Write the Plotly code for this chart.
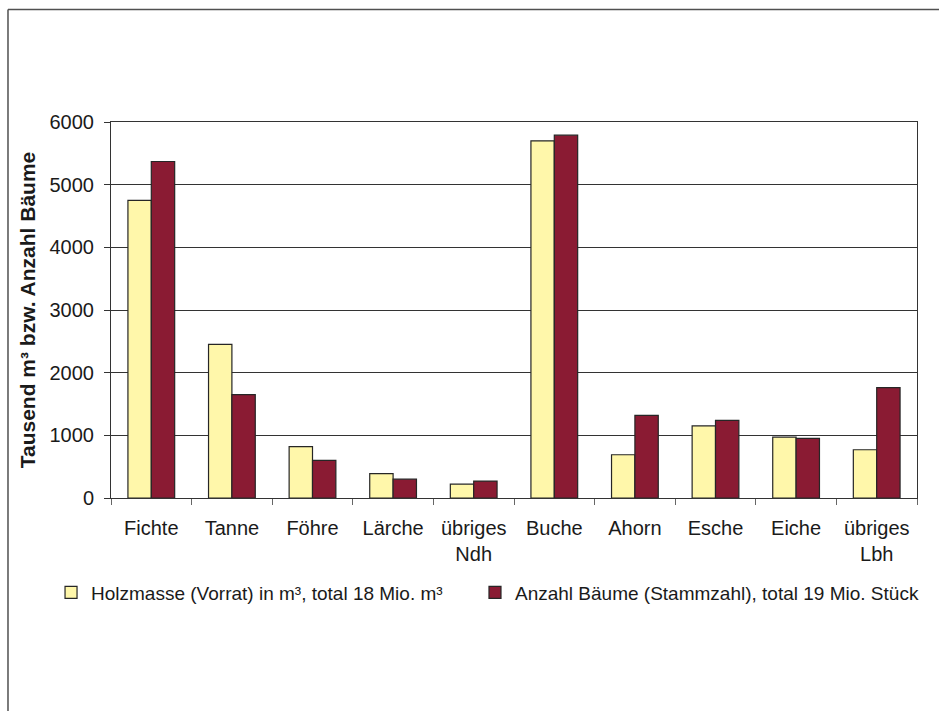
import plotly.graph_objects as go

categories = ["Fichte", "Tanne", "Föhre", "Lärche", "übriges<br>Ndh", "Buche", "Ahorn", "Esche", "Eiche", "übriges<br>Lbh"]
holzmasse = [4750, 2450, 820, 390, 220, 5700, 690, 1150, 970, 770]
anzahl = [5370, 1650, 600, 300, 270, 5790, 1320, 1240, 950, 1760]
name_holz = "Holzmasse (Vorrat) in m³, total 18 Mio. m³"
name_anzahl = "Anzahl Bäume (Stammzahl), total 19 Mio. Stück"
y_title = "Tausend m³ bzw. Anzahl Bäume"
y_ticks = [0, 1000, 2000, 3000, 4000, 5000, 6000]

FONT = "Liberation Sans, Arial, sans-serif"
TXT = "#1a1a1a"

fig = go.Figure()
fig.add_trace(go.Bar(x=categories, y=holzmasse, name=name_holz, legend="legend",
                     marker=dict(color="#FFF7AA", line=dict(color="#262626", width=1.2))))
fig.add_trace(go.Bar(x=categories, y=anzahl, name=name_anzahl, legend="legend2",
                     marker=dict(color="#8A1B33", line=dict(color="#262626", width=1.2))))

legend_common = dict(orientation="h", xanchor="left", y=-0.2515, yanchor="middle",
                     font=dict(family=FONT, size=19, color=TXT), bgcolor="rgba(0,0,0,0)")

fig.update_layout(
    width=939, height=711,
    margin=dict(l=111, r=22, t=122, b=213),
    paper_bgcolor="white", plot_bgcolor="white",
    barmode="group", bargap=0.42, bargroupgap=0,
    font=dict(family=FONT, size=20, color=TXT),
    legend=dict(x=-0.0744, **legend_common),
    legend2=dict(x=0.4516, **legend_common),
    showlegend=True,
    shapes=[dict(type="line", xref="paper", yref="paper", x0=-0.1278, x1=1.1, y0=1.2993, y1=1.2993,
                 line=dict(color="#505050", width=1.5)),
            dict(type="line", xref="paper", yref="paper", x0=-0.1278, x1=-0.1278, y0=1.2993, y1=-0.7,
                 line=dict(color="#505050", width=1.5))],
)
fig.update_xaxes(showline=True, linecolor="#333333", linewidth=1, mirror=True,
                 ticks="outside", ticklen=6, tickcolor="#666666", tickson="boundaries",
                 ticklabelstandoff=12,
                 tickfont=dict(family=FONT, size=20, color=TXT), showgrid=False)
fig.update_yaxes(range=[0, 6000], tickvals=y_ticks, showline=True, linecolor="#333333", linewidth=1,
                 mirror=True, ticks="outside", ticklen=6, tickcolor="#333333",
                 ticklabelstandoff=6,
                 showgrid=True, gridcolor="#333333", gridwidth=1,
                 tickfont=dict(family=FONT, size=20, color=TXT),
                 title=dict(text="<b>" + y_title + "</b>", font=dict(family=FONT, size=21, color=TXT), standoff=8))

fig.write_html("out.html")
